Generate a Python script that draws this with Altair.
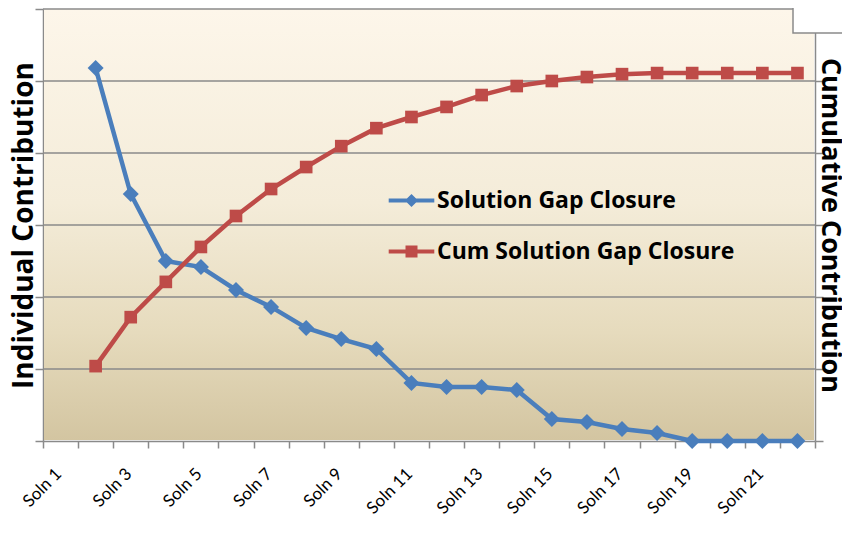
import altair as alt
import pandas as pd

categories = ["Soln 1", "Soln 2", "Soln 3", "Soln 4", "Soln 5", "Soln 6", "Soln 7",
              "Soln 8", "Soln 9", "Soln 10", "Soln 11", "Soln 12", "Soln 13", "Soln 14",
              "Soln 15", "Soln 16", "Soln 17", "Soln 18", "Soln 19", "Soln 20",
              "Soln 21", "Soln 22"]
individual = [None, 25.9, 17.15, 12.5, 12.08, 10.49, 9.31, 7.85, 7.08, 6.39, 4.03,
              3.75, 3.75, 3.54, 1.53, 1.32, 0.83, 0.56, 0.0, 0.0, 0.0, 0.0]
cumulative = [None, 20.8, 34.4, 44.2, 53.9, 62.5, 70.0, 76.1, 81.9, 86.9, 90.0,
              92.8, 96.1, 98.6, 100.0, 101.1, 101.9, 102.2, 102.2, 102.2, 102.2, 102.2]
series_names = ["Solution Gap Closure", "Cum Solution Gap Closure"]
series_colors = ["#4A7EBC", "#BE4B48"]
left_ticks = [0, 5, 10, 15, 20, 25, 30]
grid_values = [5, 10, 15, 20, 25, 30]
right_ticks = [0, 20, 40, 60, 80, 100, 120]

legend_shapes = [
    "M-3.8,-0.33L3.8,-0.33L3.8,0.33L-3.8,0.33Z M-1.1,0L0,-1.1L1.1,0L0,1.1Z",
    "M-3.8,-0.33L3.8,-0.33L3.8,0.33L-3.8,0.33Z M-1,-1L1,-1L1,1L-1,1Z",
]

df = pd.DataFrame({"cat": categories, "ind": individual, "cum": cumulative})
grid_df = pd.DataFrame({"v": grid_values})

LABEL_FONT = "Lato"
BOLD_FONT = "Open Sans"
GRAY = "#8a8a8a"

x_axis = alt.Axis(
    title=None, labelAngle=-45, labelAlign="right", labelBaseline="middle",
    labelFont=LABEL_FONT, labelFontSize=17, labelColor="black", labelPadding=23,
    labelOffset=-2, tickBand="extent", tickSize=7, tickColor=GRAY, tickWidth=1.5,
    domainColor=GRAY, domainWidth=1.5, grid=False, labelOverlap=False,
    labelExpr="parseInt(split(datum.label, ' ')[1]) % 2 == 1 ? datum.label : ''",
)
x_enc = alt.X("cat:N",
              scale=alt.Scale(type="band", domain=categories, paddingInner=0, paddingOuter=0),
              bandPosition=0.5, axis=x_axis)

left_axis = alt.Axis(
    orient="left", title="Individual Contribution", values=left_ticks, labels=False,
    grid=False, tickSize=8, tickColor=GRAY, tickWidth=1.5,
    domainColor=GRAY, domainWidth=1.5, titleFont=BOLD_FONT, titleFontSize=28,
    titleFontWeight="bold", titleColor="black", titlePadding=2,
    titleBaseline="alphabetic",
)
right_axis = alt.Axis(
    orient="right", title="Cumulative Contribution", values=right_ticks, labels=False,
    grid=False, tickSize=8, tickColor=GRAY, tickWidth=1.5,
    domainColor=GRAY, domainWidth=1.5, titleFont=BOLD_FONT, titleFontSize=27,
    titleFontWeight="bold", titleColor="black", titlePadding=-2,
    titleBaseline="alphabetic",
)

bg = alt.Chart(pd.DataFrame({"a": [1]})).mark_rect(
    fill=alt.LinearGradient(
        gradient="linear", x1=0, x2=0, y1=0, y2=1,
        stops=[alt.GradientStop(offset=0, color="#FDF6EA"),
               alt.GradientStop(offset=0.45, color="#F4ECD9"),
               alt.GradientStop(offset=0.75, color="#E6DBBD"),
               alt.GradientStop(offset=1, color="#D3C5A1")],
    ),
    strokeWidth=0,
).encode(x=alt.value(1), x2=alt.value({"expr": "width - 1"}),
         y=alt.value(0), y2=alt.value({"expr": "height - 1"}))

y_left = alt.Scale(domain=[0, 30])

grid = alt.Chart(grid_df).mark_rule(color=GRAY, strokeWidth=1.5).encode(
    y=alt.Y("v:Q", scale=y_left, axis=left_axis),
    x=alt.value(0), x2=alt.value("width"),
)

blue = alt.Chart(df).mark_line(
    color=series_colors[0], strokeWidth=4.5,
    point=alt.OverlayMarkDef(shape="diamond", size=256, filled=True, color=series_colors[0]),
).encode(x=x_enc, y=alt.Y("ind:Q", scale=y_left, axis=left_axis))

red = alt.Chart(df).mark_line(
    color=series_colors[1], strokeWidth=4.5,
    point=alt.OverlayMarkDef(shape="square", size=160, filled=True, color=series_colors[1]),
).encode(x=x_enc, y=alt.Y("cum:Q", scale=alt.Scale(domain=[0, 120]), axis=right_axis))

leg_props = dict(
    orient="none", legendX=357, legendY=180, title=None, labelFont=BOLD_FONT,
    labelFontSize=23, labelFontWeight="bold", labelColor="black", labelOffset=14,
    symbolSize=144, rowPadding=27, padding=0, labelLimit=500, symbolStrokeWidth=0,
)
leg = alt.Chart(pd.DataFrame({"s": series_names})).transform_filter("false").mark_point(
    filled=True, opacity=1, size=144
).encode(
    color=alt.Color("s:N", scale=alt.Scale(domain=series_names, range=series_colors),
                    legend=alt.Legend(**leg_props)),
    shape=alt.Shape("s:N", scale=alt.Scale(domain=series_names, range=legend_shapes),
                    legend=alt.Legend(**leg_props)),
)

box = alt.Chart(pd.DataFrame({"a": [1]})).mark_rect(
    fill="white", stroke=GRAY, strokeWidth=1.5
).encode(x=alt.value(750), x2=alt.value(840), y=alt.value(-15), y2=alt.value(24))

left_layer = alt.layer(grid, blue)

chart = alt.layer(bg, left_layer, red, leg, box).resolve_scale(y="independent").properties(
    width=772, height=432,
    autosize=alt.AutoSizeParams(type="none"),
    padding={"left": 35, "top": 1, "right": 27, "bottom": 78},
).configure_view(stroke=None)

chart.save("out.html", embed_options={"renderer": "svg", "actions": False})
